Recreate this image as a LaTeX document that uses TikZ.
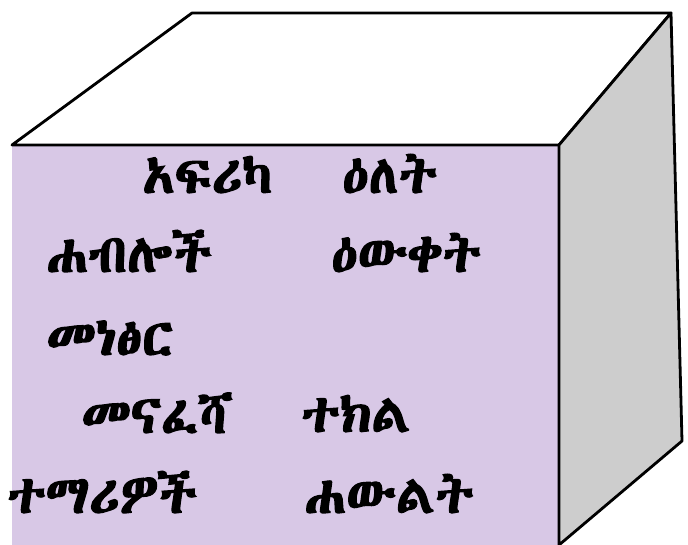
\documentclass[tikz,border=0pt]{standalone}
\usepackage{fontspec}
\newfontfamily\geez[Script=Ethiopic,FakeBold=2.5]{Abyssinica SIL}
\definecolor{frontlilac}{HTML}{D8C8E6}
\definecolor{sidegray}{HTML}{CDCDCD}
\tikzset{
  edge/.style={line width=2.8pt, line join=round},
  word/.style={font=\geez\fontsize{53}{60}\selectfont, inner sep=0pt, anchor=base west}
}
\begin{document}
\begin{tikzpicture}[x=1pt, y=-1pt]
    \useasboundingbox (0,0) rectangle (688,545);
    % front face
    \fill[frontlilac] (12,145) rectangle (559,548);
    % top and side faces
    \draw[edge, fill=white] (12,145) -- (192,13) -- (671,13) -- (559,145) -- cycle;
    \draw[edge, fill=sidegray] (559,145) -- (671,13) -- (682,441) -- (559,545) -- cycle;
    % words
    \node[word] (afrika)   at (142,193) {አፍሪካ};
    \node[word] (elet)     at (342,193) {ዕለት};
    \node[word] (habloch)  at (46,272)  {ሐብሎች};
    \node[word] (ewket)    at (331,272) {ዕውቀት};
    \node[word] (menetser) at (46,355)  {መነፅር};
    \node[word] (menafesha) at (81,433) {መናፈሻ};
    \node[word] (tekel)    at (301,432) {ተክል};
    \node[word] (temariwoch) at (7,513) {ተማሪዎች};
    \node[word] (hawelt)   at (304,513) {ሐውልት};
\end{tikzpicture}
\end{document}
